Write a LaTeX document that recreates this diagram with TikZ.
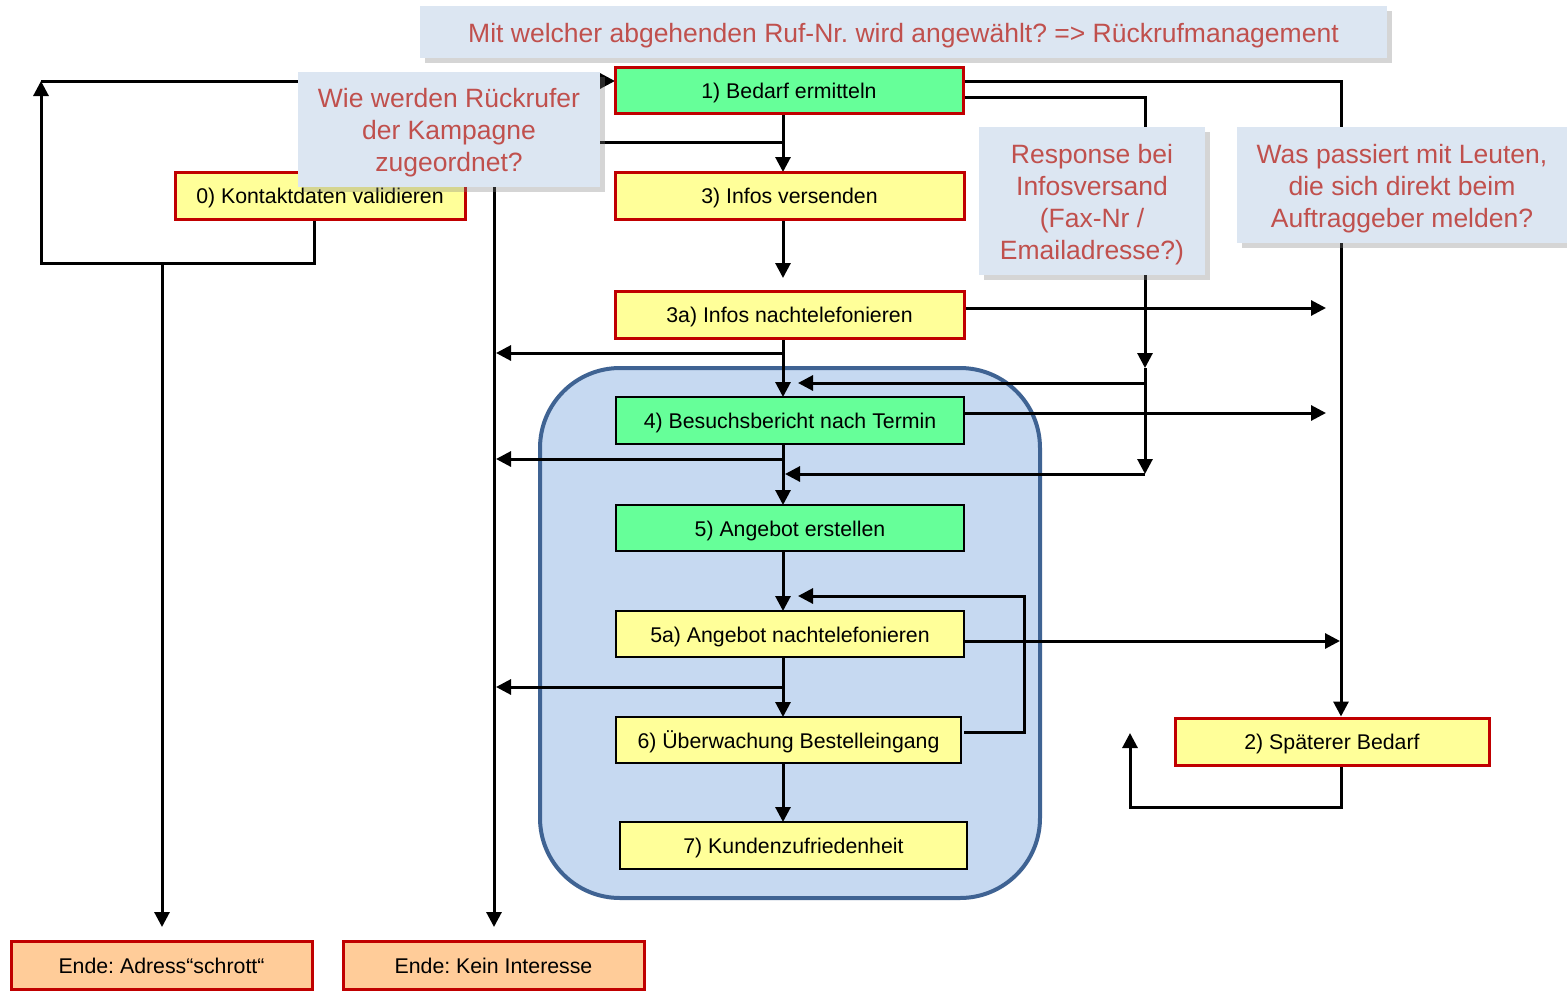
\documentclass[tikz,border=0pt]{standalone}
\usepackage{fontspec}
\setmainfont{Liberation Sans}
\frenchspacing
\usetikzlibrary{arrows.meta,shadows,calc}
\definecolor{boxred}{HTML}{C00000}
\definecolor{boxgreen}{HTML}{66FF99}
\definecolor{boxyellow}{HTML}{FFFF99}
\definecolor{boxorange}{HTML}{FFCC99}
\definecolor{callfill}{HTML}{DCE6F2}
\definecolor{calltext}{HTML}{C0504D}
\definecolor{contfill}{HTML}{C6D9F1}
\definecolor{contborder}{HTML}{3F6393}
\begin{document}
\begin{tikzpicture}[x=1pt,y=-1pt,
  box/.style={draw=black, line width=2pt, inner sep=0pt, outer sep=0pt, minimum height=46pt,
    font=\fontsize{21.3}{25}\selectfont, text height=17.5pt, text depth=0.8pt},
  redb/.style={draw=boxred, line width=3pt},
  gbox/.style={box, fill=boxgreen},
  ybox/.style={box, fill=boxyellow},
  obox/.style={box, fill=boxorange},
  ln/.style={line width=3pt},
  arr/.style={line width=3pt, -{Triangle[length=15pt,width=15pt]}},
  callout/.style={fill=callfill, inner sep=0pt, outer sep=0pt,
    drop shadow={shadow xshift=5pt, shadow yshift=-5pt, opacity=0.33}},
  calltxt/.style={text=calltext, inner sep=0pt, align=center, font=\fontsize{26.5}{32}\selectfont}
]
\useasboundingbox (0,0) rectangle (1567,996);

% container
\draw[draw=contborder, fill=contfill, line width=4pt, rounded corners=80pt] (540,368) rectangle (1040,898);

% boxes (positions)
\node[gbox, redb, minimum width=348pt] (b1) at (789,90) {1) Bedarf ermitteln};
\node[ybox, redb, minimum width=349pt, minimum height=47pt] (b3) at (789.5,195.5) {3) Infos versenden};
\node[ybox, redb, minimum width=290pt, minimum height=47pt] (b0) at (320,195.5) {0) Kontaktdaten validieren};
\node[ybox, redb, minimum width=349pt, minimum height=47pt] (b3a) at (789.5,314.5) {3a) Infos nachtelefonieren};
\node[gbox, minimum width=348pt, minimum height=47pt] (b4) at (790,420.5) {4) Besuchsbericht nach Termin};
\node[gbox, minimum width=348pt] (b5) at (790,528) {5) Angebot erstellen};
\node[ybox, minimum width=348pt] (b5a) at (790,634) {5a) Angebot nachtelefonieren};
\node[ybox, minimum width=345pt] (b6) at (788.5,740) {6) Überwachung Bestelleingang};
\node[ybox, minimum width=347pt, minimum height=47pt] (b7) at (793.5,845.5) {7) Kundenzufriedenheit};
\node[ybox, redb, minimum width=314pt, minimum height=47pt] (b2) at (1332,741.5) {2) Späterer Bedarf};
\node[obox, redb, minimum width=301pt, minimum height=48pt] (e1) at (161.5,965) {Ende: Adress“schrott“};
\node[obox, redb, minimum width=301pt, minimum height=48pt] (e2) at (493.5,965) {Ende: Kein Interesse};

% junction coordinates
\coordinate (vx) at (783,0);
\coordinate (j0) at (314,263);
\coordinate (j0l) at (41,263);
\coordinate (j0t) at (41,81);
\coordinate (j0e) at (162,263);
\coordinate (jk) at (783,142);
\coordinate (kx) at (494,142);
\coordinate (a3a) at (783,278);
\coordinate (br3a) at (783,353);
\coordinate (tl3a) at (496,353);
\coordinate (br4) at (783,459);
\coordinate (tl4) at (496,459);
\coordinate (br5a) at (783,687);
\coordinate (tl5a) at (496,687);
\coordinate (r1) at (1341,81);
\coordinate (r2) at (1145,97);
\coordinate (r2a) at (1145,368);
\coordinate (r2b) at (1145,383);
\coordinate (r2c) at (1145,474);
\coordinate (t383) at (798,383);
\coordinate (t474) at (785,474);
\coordinate (l6) at (1024,732);
\coordinate (l6t) at (1024,596);
\coordinate (t596) at (798,596);
\coordinate (e3a) at (1326,308);
\coordinate (e4) at (1326,413);
\coordinate (e5a) at (1340,641);
\coordinate (b2l) at (1130,807);
\coordinate (b2t) at (1130,733);

% connectors
\draw[arr] (b0.south -| j0) -- (j0) -- (j0l) -- (j0t);
\draw[arr] (j0t) -- (b1.west |- j0t);
\draw[arr] (j0e) -- ($(e1.north -| j0e)+(0,-14)$);
\draw[arr] (b1.south -| vx) -- (b3.north -| vx);
\draw[arr] (jk) -- (kx) -- ($(kx |- e2.north)+(0,-14)$);
\draw[arr] (b3.south -| vx) -- (a3a);
\draw[arr] (b3a.south -| vx) -- (b4.north -| vx);
\draw[arr] (br3a) -- (tl3a);
\draw[arr] (b4.south -| vx) -- (b5.north -| vx);
\draw[arr] (br4) -- (tl4);
\draw[arr] (b5.south -| vx) -- (b5a.north -| vx);
\draw[arr] (b5a.south -| vx) -- (b6.north -| vx);
\draw[arr] (br5a) -- (tl5a);
\draw[arr] (b6.south -| vx) -- (b7.north -| vx);
\draw[arr] (b1.east |- r1) -- (r1) -- ($(b2.north -| r1)+(0,-1.5)$);
\draw[arr] (b1.east |- r2) -- (r2) -- (r2a);
\draw[arr] (r2a) -- (r2c);
\draw[arr] (r2b) -- (t383);
\draw[arr] (r2c) -- (t474);
\draw[arr] (b3a.east |- e3a) -- (e3a);
\draw[arr] (b4.east |- e4) -- (e4);
\draw[arr] (b5a.east |- e5a) -- (e5a);
\draw[arr] ($(b6.east |- l6)+(3,0)$) -- (l6) -- (l6t) -- (t596);
\draw[arr] (b2.south -| r1) -- (r1 |- b2l) -- (b2l) -- (b2t);

% boxes drawn again on top of connectors
\node[gbox, redb, minimum width=348pt] (b1top) at (b1) {1) Bedarf ermitteln};
\node[ybox, redb, minimum width=349pt, minimum height=47pt] (b3top) at (b3) {3) Infos versenden};
\node[ybox, redb, minimum width=290pt, minimum height=47pt] (b0top) at (b0) {0) Kontaktdaten validieren};
\node[ybox, redb, minimum width=349pt, minimum height=47pt] (b3atop) at (b3a) {3a) Infos nachtelefonieren};
\node[gbox, minimum width=348pt, minimum height=47pt] (b4top) at (b4) {4) Besuchsbericht nach Termin};
\node[gbox, minimum width=348pt] (b5top) at (b5) {5) Angebot erstellen};
\node[ybox, minimum width=348pt] (b5atop) at (b5a) {5a) Angebot nachtelefonieren};
\node[ybox, minimum width=345pt] (b6top) at (b6) {6) Überwachung Bestelleingang};
\node[ybox, minimum width=347pt, minimum height=47pt] (b7top) at (b7) {7) Kundenzufriedenheit};
\node[ybox, redb, minimum width=314pt, minimum height=47pt] (b2top) at (b2) {2) Späterer Bedarf};

% callouts
\node[callout, minimum width=967pt, minimum height=52pt] (c1) at (903.5,32) {};
\node[calltxt] (c1t) at (903.5,36) {Mit welcher abgehenden Ruf-Nr. wird angewählt? => Rückrufmanagement};
\node[callout, minimum width=302pt, minimum height=115pt] (c2) at (449,129.5) {};
\node[calltxt] (c2t) at (449,133) {Wie werden Rückrufer\\der Kampagne\\zugeordnet?};
\node[callout, minimum width=226pt, minimum height=148pt] (c3) at (1092,201) {};
\node[calltxt] (c3t) at (1092,205) {Response bei\\Infosversand\\(Fax-Nr /\\Emailadresse?)};
\node[callout, minimum width=330pt, minimum height=116pt] (c4) at (1402,185) {};
\node[calltxt] (c4t) at (1402,189) {Was passiert mit Leuten,\\die sich direkt beim\\Auftraggeber melden?};
\end{tikzpicture}
\end{document}
